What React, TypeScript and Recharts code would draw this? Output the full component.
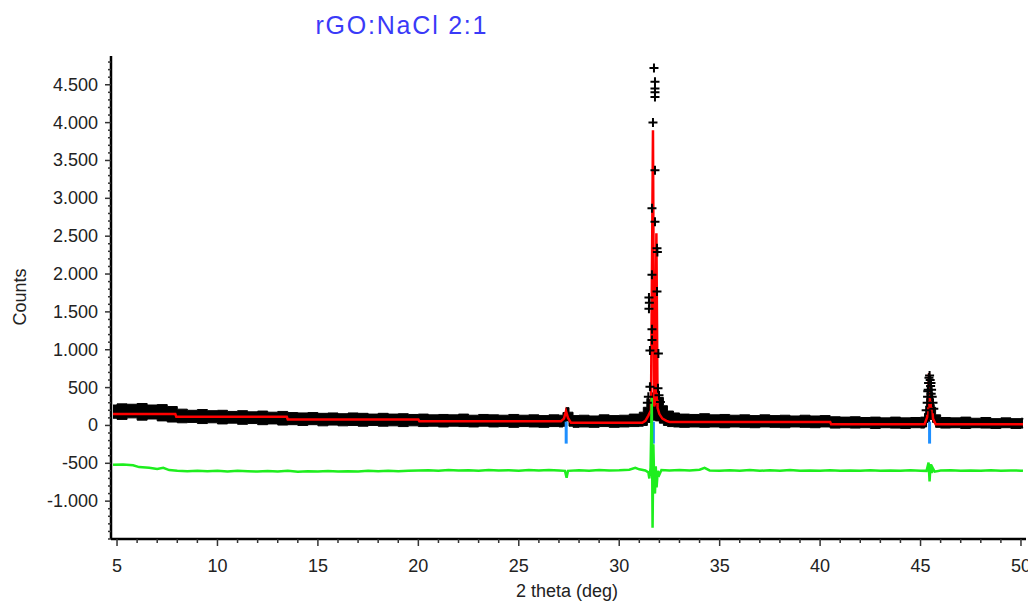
import React from 'react';
import { ComposedChart, XAxis, YAxis, Line, Area, Scatter } from 'recharts';

const FONT = '"Liberation Sans", Arial, sans-serif';

// observed pattern: band of points [2theta, low, high]
const obsBand: [number, number, number][] = [
  [4.8, 95, 270], [5.0, 80, 285], [5.5, 100, 280], [6.0, 70, 290], [6.5, 85, 270],
  [7.0, 60, 275], [7.5, 45, 250], [8.0, 35, 215], [8.5, 40, 200], [9.0, 25, 210],
  [9.5, 35, 195], [10.0, 20, 200], [10.5, 30, 185], [11.0, 15, 195], [11.5, 25, 180],
  [12.0, 10, 190], [12.5, 20, 175], [13.0, 5, 185], [13.5, 10, 170], [14.0, 0, 165],
  [14.5, 10, 170], [15.0, -5, 160], [15.5, 5, 165], [16.0, -5, 155], [16.5, 0, 165],
  [17.0, -10, 160], [17.5, 0, 150], [18.0, -10, 160], [18.5, -5, 150], [19.0, -15, 155],
  [19.5, -5, 145], [20.0, -15, 150], [20.5, -10, 140], [21.0, -20, 145], [21.5, -10, 140],
  [22.0, -15, 150], [22.5, -20, 135], [23.0, -10, 145], [23.5, -20, 140], [24.0, -15, 135],
  [24.5, -25, 145], [25.0, -15, 135], [25.5, -20, 140], [26.0, -25, 130], [26.5, -15, 140],
  [27.0, -20, 135], [27.2, -10, 170], [27.35, 60, 235], [27.5, -10, 175], [27.7, -25, 130],
  [28.0, -20, 135], [28.5, -25, 125], [29.0, -15, 140], [29.5, -25, 130], [30.0, -20, 135],
  [30.5, -15, 150], [31.0, -10, 175], [31.2, 0, 240], [31.4, 40, 340], [31.6, 70, 430],
  [31.8, 60, 440], [32.0, 30, 370], [32.2, 0, 260], [32.4, -15, 190], [32.7, -20, 165],
  [33.0, -25, 150], [33.5, -20, 145], [34.0, -25, 155], [34.5, -20, 140], [35.0, -30, 145],
  [35.5, -20, 135], [36.0, -25, 140], [36.5, -30, 130], [37.0, -20, 140], [37.5, -25, 130],
  [38.0, -30, 135], [38.5, -20, 125], [39.0, -25, 135], [39.5, -30, 125], [40.0, -20, 130],
  [40.5, -35, 115], [41.0, -30, 110], [41.5, -35, 115], [42.0, -30, 105], [42.5, -40, 110],
  [43.0, -30, 100], [43.5, -35, 110], [44.0, -40, 100], [44.5, -30, 105], [45.0, -35, 110],
  [45.2, -20, 160], [45.3, 40, 260], [45.45, 80, 300], [45.6, 40, 240], [45.75, -25, 140],
  [46.0, -35, 105], [46.5, -30, 100], [47.0, -40, 110], [47.5, -30, 95], [48.0, -35, 105],
  [48.5, -40, 90], [49.0, -30, 100], [49.5, -40, 90], [50.0, -35, 95], [50.1, -30, 80],
];

// observed points that stick out at the reflections
const peakCounts: [number, number][] = [
  [31.73, 4720], [31.78, 4540], [31.78, 4450], [31.78, 4400], [31.78, 4340], [31.68, 4000],
  [31.78, 3370], [31.63, 2870], [31.78, 2690], [31.88, 2340], [31.9, 2290], [31.63, 1990],
  [31.88, 1770], [31.48, 1690], [31.5, 1620], [31.48, 1540], [31.63, 1270], [31.63, 1130],
  [31.53, 990], [31.95, 950], [31.53, 510], [31.93, 490], [31.45, 380], [31.98, 400],
  [31.4, 300], [32.05, 310],
  [45.28, 200], [45.33, 300], [45.35, 380], [45.38, 470], [45.4, 560], [45.42, 630],
  [45.45, 660], [45.48, 600], [45.5, 520], [45.52, 560], [45.55, 470], [45.58, 380],
  [45.62, 300], [45.66, 220], [45.36, 450], [45.53, 420],
];

// calculated profile
const calcCurve: [number, number][] = [
  [4.8, 150], [7.9, 150], [7.95, 115], [13.45, 115], [13.5, 80], [20.0, 80], [20.05, 55],
  [27.1, 55], [27.25, 90], [27.35, 190], [27.45, 100], [27.6, 35], [31.15, 35], [31.3, 60],
  [31.45, 130], [31.58, 200], [31.68, 3900], [31.74, 250], [31.79, 300], [31.85, 2540],
  [31.91, 230], [32.0, 150], [32.15, 90], [32.35, 60], [32.5, 45], [40.5, 45], [40.55, 15],
  [45.2, 15], [45.33, 110], [45.42, 690], [45.49, 200], [45.55, 420], [45.62, 90],
  [45.75, 15], [50.1, 15],
];

// difference curve (obs - calc, shifted down)
const diffCurve: [number, number][] = [
  [4.8, -520], [5.3, -515], [5.8, -525], [6.1, -550], [6.6, -560], [7.0, -575], [7.3, -560],
  [7.6, -590], [8.0, -600], [8.5, -605], [9.0, -598], [9.5, -606], [10.0, -600], [10.5, -608],
  [11.0, -600], [11.5, -606], [12.0, -610], [12.5, -603], [13.0, -607], [13.5, -600],
  [14.0, -612], [14.5, -604], [15.0, -608], [15.5, -602], [16.0, -610], [16.5, -604],
  [17.0, -607], [17.5, -600], [18.0, -606], [18.5, -598], [19.0, -604], [19.5, -600],
  [20.0, -596], [20.5, -592], [21.0, -598], [21.5, -590], [22.0, -596], [22.5, -592],
  [23.0, -598], [23.5, -590], [24.0, -596], [24.5, -592], [25.0, -598], [25.5, -590],
  [26.0, -596], [26.5, -590], [27.0, -595], [27.3, -600], [27.38, -690], [27.45, -600],
  [28.0, -592], [28.5, -598], [29.0, -590], [29.5, -596], [30.0, -592], [30.5, -585],
  [30.8, -560], [31.0, -580], [31.3, -595], [31.45, -620], [31.5, -700], [31.56, -560],
  [31.62, 370], [31.66, -1350], [31.7, -250], [31.74, -730], [31.78, -900], [31.82, -540],
  [31.86, -820], [31.92, -600], [32.0, -650], [32.1, -590], [32.5, -596], [33.0, -590],
  [33.5, -596], [34.0, -585], [34.25, -560], [34.5, -594], [35.0, -598], [35.5, -592],
  [36.0, -598], [36.5, -590], [37.0, -600], [37.5, -592], [38.0, -598], [38.5, -590],
  [39.0, -600], [39.5, -594], [40.0, -598], [40.5, -592], [41.0, -600], [41.5, -594],
  [42.0, -598], [42.5, -592], [43.0, -600], [43.5, -594], [44.0, -598], [44.5, -592],
  [45.0, -598], [45.3, -600], [45.4, -490], [45.45, -740], [45.5, -510], [45.55, -630],
  [45.6, -560], [45.7, -610], [46.0, -596], [46.5, -592], [47.0, -600], [47.5, -594],
  [48.0, -598], [48.5, -592], [49.0, -600], [49.5, -594], [50.0, -598], [50.1, -600],
];

// reflection markers
const braggPositions = [27.36, 31.7, 45.45];
const braggTop = 50;
const braggBottom = -240;

const xLabels = [5, 10, 15, 20, 25, 30, 35, 40, 45, 50];
const yLabels = [-1000, -500, 0, 500, 1000, 1500, 2000, 2500, 3000, 3500, 4000, 4500];

const xTicks = Array.from({ length: 46 }, (_, i) => 5 + i);
const yTicks = Array.from({ length: 64 }, (_, i) => -1500 + i * 100);

const bandData = obsBand.map(([x, lo, hi]) => ({ x, range: [lo, hi] }));
const peakData = peakCounts.map(([x, y]) => ({ x, y }));
const calcData = calcCurve.map(([x, y]) => ({ x, y }));
const diffData = diffCurve.map(([x, y]) => ({ x, y }));

const fmt = (v: number) => {
  const a = Math.abs(v);
  const s = a >= 1000 ? `${Math.floor(a / 1000)}.${String(a % 1000).padStart(3, '0')}` : `${a}`;
  return v < 0 ? `-${s}` : s;
};

const XTick = (props: any) => {
  const { x, y, payload } = props;
  const major = xLabels.includes(payload.value);
  return (
    <g>
      <line x1={x} x2={x} y1={y} y2={y + (major ? 7 : 4)} stroke="#333" strokeWidth={1.5} />
      {major && (
        <text x={x} y={y + 33} textAnchor="middle" fontSize={18} fontFamily={FONT} fill="#222">
          {payload.value}
        </text>
      )}
    </g>
  );
};

const YTick = (props: any) => {
  const { x, y, payload } = props;
  const major = yLabels.includes(payload.value);
  return (
    <g>
      <line x1={x - (major ? 6 : 3)} x2={x} y1={y} y2={y} stroke="#333" strokeWidth={1.5} />
      {major && (
        <text x={x - 13} y={y + 6} textAnchor="end" fontSize={18} fontFamily={FONT} fill="#222">
          {fmt(payload.value)}
        </text>
      )}
    </g>
  );
};

const Cross = (props: any) => {
  const { cx, cy } = props;
  return <path d={`M${cx - 4.5},${cy}H${cx + 4.5}M${cx},${cy - 4.5}V${cy + 4.5}`} stroke="#000" strokeWidth={2} />;
};

export default function App() {
  return (
    <div style={{ position: 'relative', width: 1020, height: 600 }}>
      <style>{`.recharts-surface { overflow: visible; }`}</style>
      <ComposedChart width={1020} height={600} margin={{ top: 48, right: 2, bottom: 9, left: 8 }}>
        <XAxis
          dataKey="x"
          type="number"
          domain={[4.7, 50.25]}
          ticks={xTicks}
          interval={0}
          allowDataOverflow
          height={60}
          tickSize={0}
          tickMargin={0}
          tickLine={false}
          tick={<XTick />}
          axisLine={{ stroke: '#000', strokeWidth: 2.5 }}
        />
        <XAxis
          xAxisId="top"
          orientation="top"
          type="number"
          domain={[4.7, 50.25]}
          height={0}
          tick={false}
          tickLine={false}
          axisLine={{ stroke: '#444', strokeWidth: 2 }}
        />
        <YAxis
          type="number"
          domain={[-1500, 4880]}
          ticks={yTicks}
          interval={0}
          allowDataOverflow
          width={95}
          tickSize={0}
          tickMargin={0}
          tickLine={false}
          tick={<YTick />}
          axisLine={{ stroke: '#000', strokeWidth: 2.5 }}
        />
        <YAxis
          yAxisId="right"
          orientation="right"
          type="number"
          domain={[-1500, 4880]}
          width={0}
          tick={false}
          tickLine={false}
          axisLine={{ stroke: '#555', strokeWidth: 2 }}
        />
        <Area
          data={bandData}
          dataKey="range"
          type="stepAfter"
          stroke="#000"
          strokeWidth={1}
          fill="#000"
          fillOpacity={1}
          isAnimationActive={false}
        />
        <Scatter data={peakData} dataKey="y" shape={<Cross />} isAnimationActive={false} />
        <Line
          data={calcData}
          dataKey="y"
          type="linear"
          stroke="#ff0000"
          strokeWidth={2.5}
          dot={false}
          isAnimationActive={false}
        />
        {braggPositions.map((p) => (
          <Line
            key={p}
            data={[{ x: p, y: braggTop }, { x: p, y: braggBottom }]}
            dataKey="y"
            stroke="#1e8fff"
            strokeWidth={3}
            dot={false}
            isAnimationActive={false}
          />
        ))}
        <Line
          data={diffData}
          dataKey="y"
          type="linear"
          stroke="#1eee1e"
          strokeWidth={2.5}
          dot={false}
          isAnimationActive={false}
        />
      </ComposedChart>
      <svg width={1020} height={600} style={{ position: 'absolute', left: 0, top: 0, pointerEvents: 'none', overflow: 'visible' }}>
        <text x={393} y={26} textAnchor="middle" fontSize={25} fontFamily={FONT} fill="#3a3af8" textLength={171} lengthAdjust="spacing">
          rGO:NaCl 2:1
        </text>
        <text x={0} y={0} transform="translate(12,289) rotate(-90)" textAnchor="middle" dy="0.35em" fontSize={18} fontFamily={FONT} fill="#222">
          Counts
        </text>
        <text x={559} y={589} textAnchor="middle" fontSize={18} fontFamily={FONT} fill="#222">
          2 theta (deg)
        </text>
      </svg>
    </div>
  );
}
